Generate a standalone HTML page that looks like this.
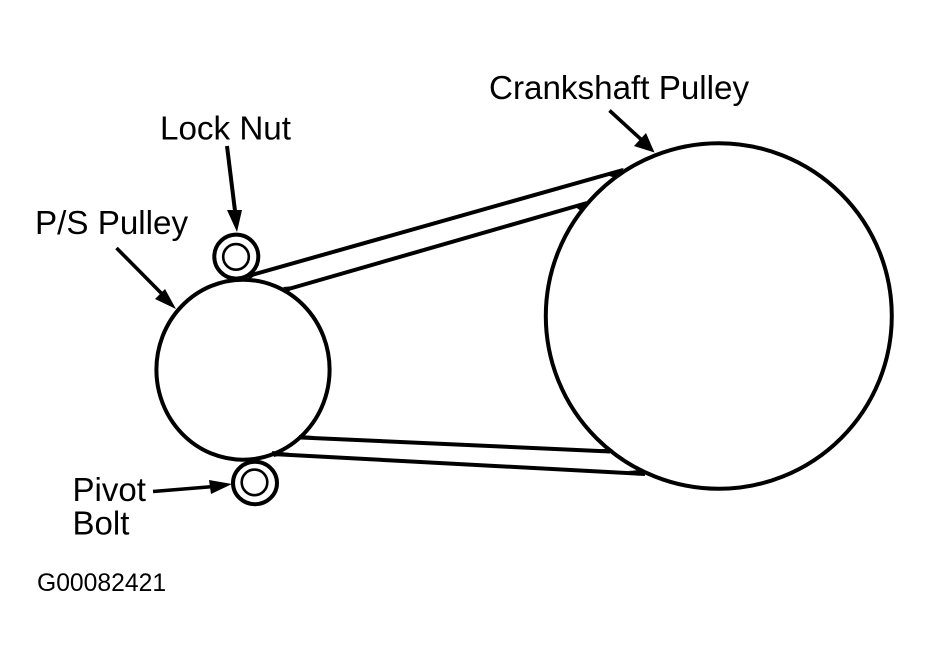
<!DOCTYPE html>
<html>
<head>
<meta charset="utf-8">
<style>
html,body{margin:0;padding:0;background:#fff;width:931px;height:666px;overflow:hidden}
svg{display:block}
text{font-family:"Liberation Sans",Arial,sans-serif;fill:#000}
</style>
</head>
<body>
<svg width="931" height="666" viewBox="0 0 931 666" xmlns="http://www.w3.org/2000/svg">
<rect width="931" height="666" fill="#fff"/>
<g fill="none" stroke="#000" stroke-width="4">
<ellipse cx="718.8" cy="316" rx="173" ry="172.8"/>
<ellipse cx="243" cy="369.7" rx="86.6" ry="90"/>
<circle cx="236.3" cy="256.6" r="22"/>
<circle cx="236" cy="256.9" r="12.8" stroke-width="2.6"/>
<ellipse cx="255" cy="483" rx="22" ry="21.2"/>
<circle cx="254.5" cy="482.4" r="12.8" stroke-width="2.6"/>
<line x1="248" y1="276" x2="623" y2="170"/>
<line x1="285" y1="290" x2="587" y2="203"/>
<line x1="301" y1="437.5" x2="610" y2="451.5"/>
<line x1="272" y1="454" x2="645" y2="474"/>
<line x1="609.5" y1="110.5" x2="645" y2="143" stroke-width="3.6"/>
<line x1="227" y1="146" x2="235.5" y2="215" stroke-width="4"/>
<line x1="116.5" y1="248" x2="166" y2="298" stroke-width="3.6"/>
<line x1="153" y1="491.5" x2="214" y2="486.5" stroke-width="3.6"/>
</g>
<g fill="#000">
<polygon points="654.5,152.5 634,146 646,133"/>
<polygon points="237,232 227,210 242,210"/>
<polygon points="176,309 155,299 165,289"/>
<polygon points="232,484 209,480 211,494"/>
<polygon points="606,175 624,168 616,178"/>
<polygon points="574,206 588,201 581,211"/>
<polygon points="246,276 262,271 250,279"/>
<polygon points="283,287 296,286 288,292"/>
<polygon points="299,435 314,436 299,440"/>
<polygon points="272,451 290,453 274,457"/>
<polygon points="600,449 612,449 614,453"/>
<polygon points="628,471 640,470 652,475"/>
</g>
<text x="489" y="99" font-size="33.2">Crankshaft Pulley</text>
<text x="160" y="139.5" font-size="33.2">Lock Nut</text>
<text x="35" y="234" font-size="33.2">P/S Pulley</text>
<text x="72.5" y="501" font-size="33">Pivot</text>
<text x="72.5" y="534.5" font-size="33">Bolt</text>
<text x="37" y="591" font-size="24.7">G00082421</text>
</svg>
</body>
</html>
